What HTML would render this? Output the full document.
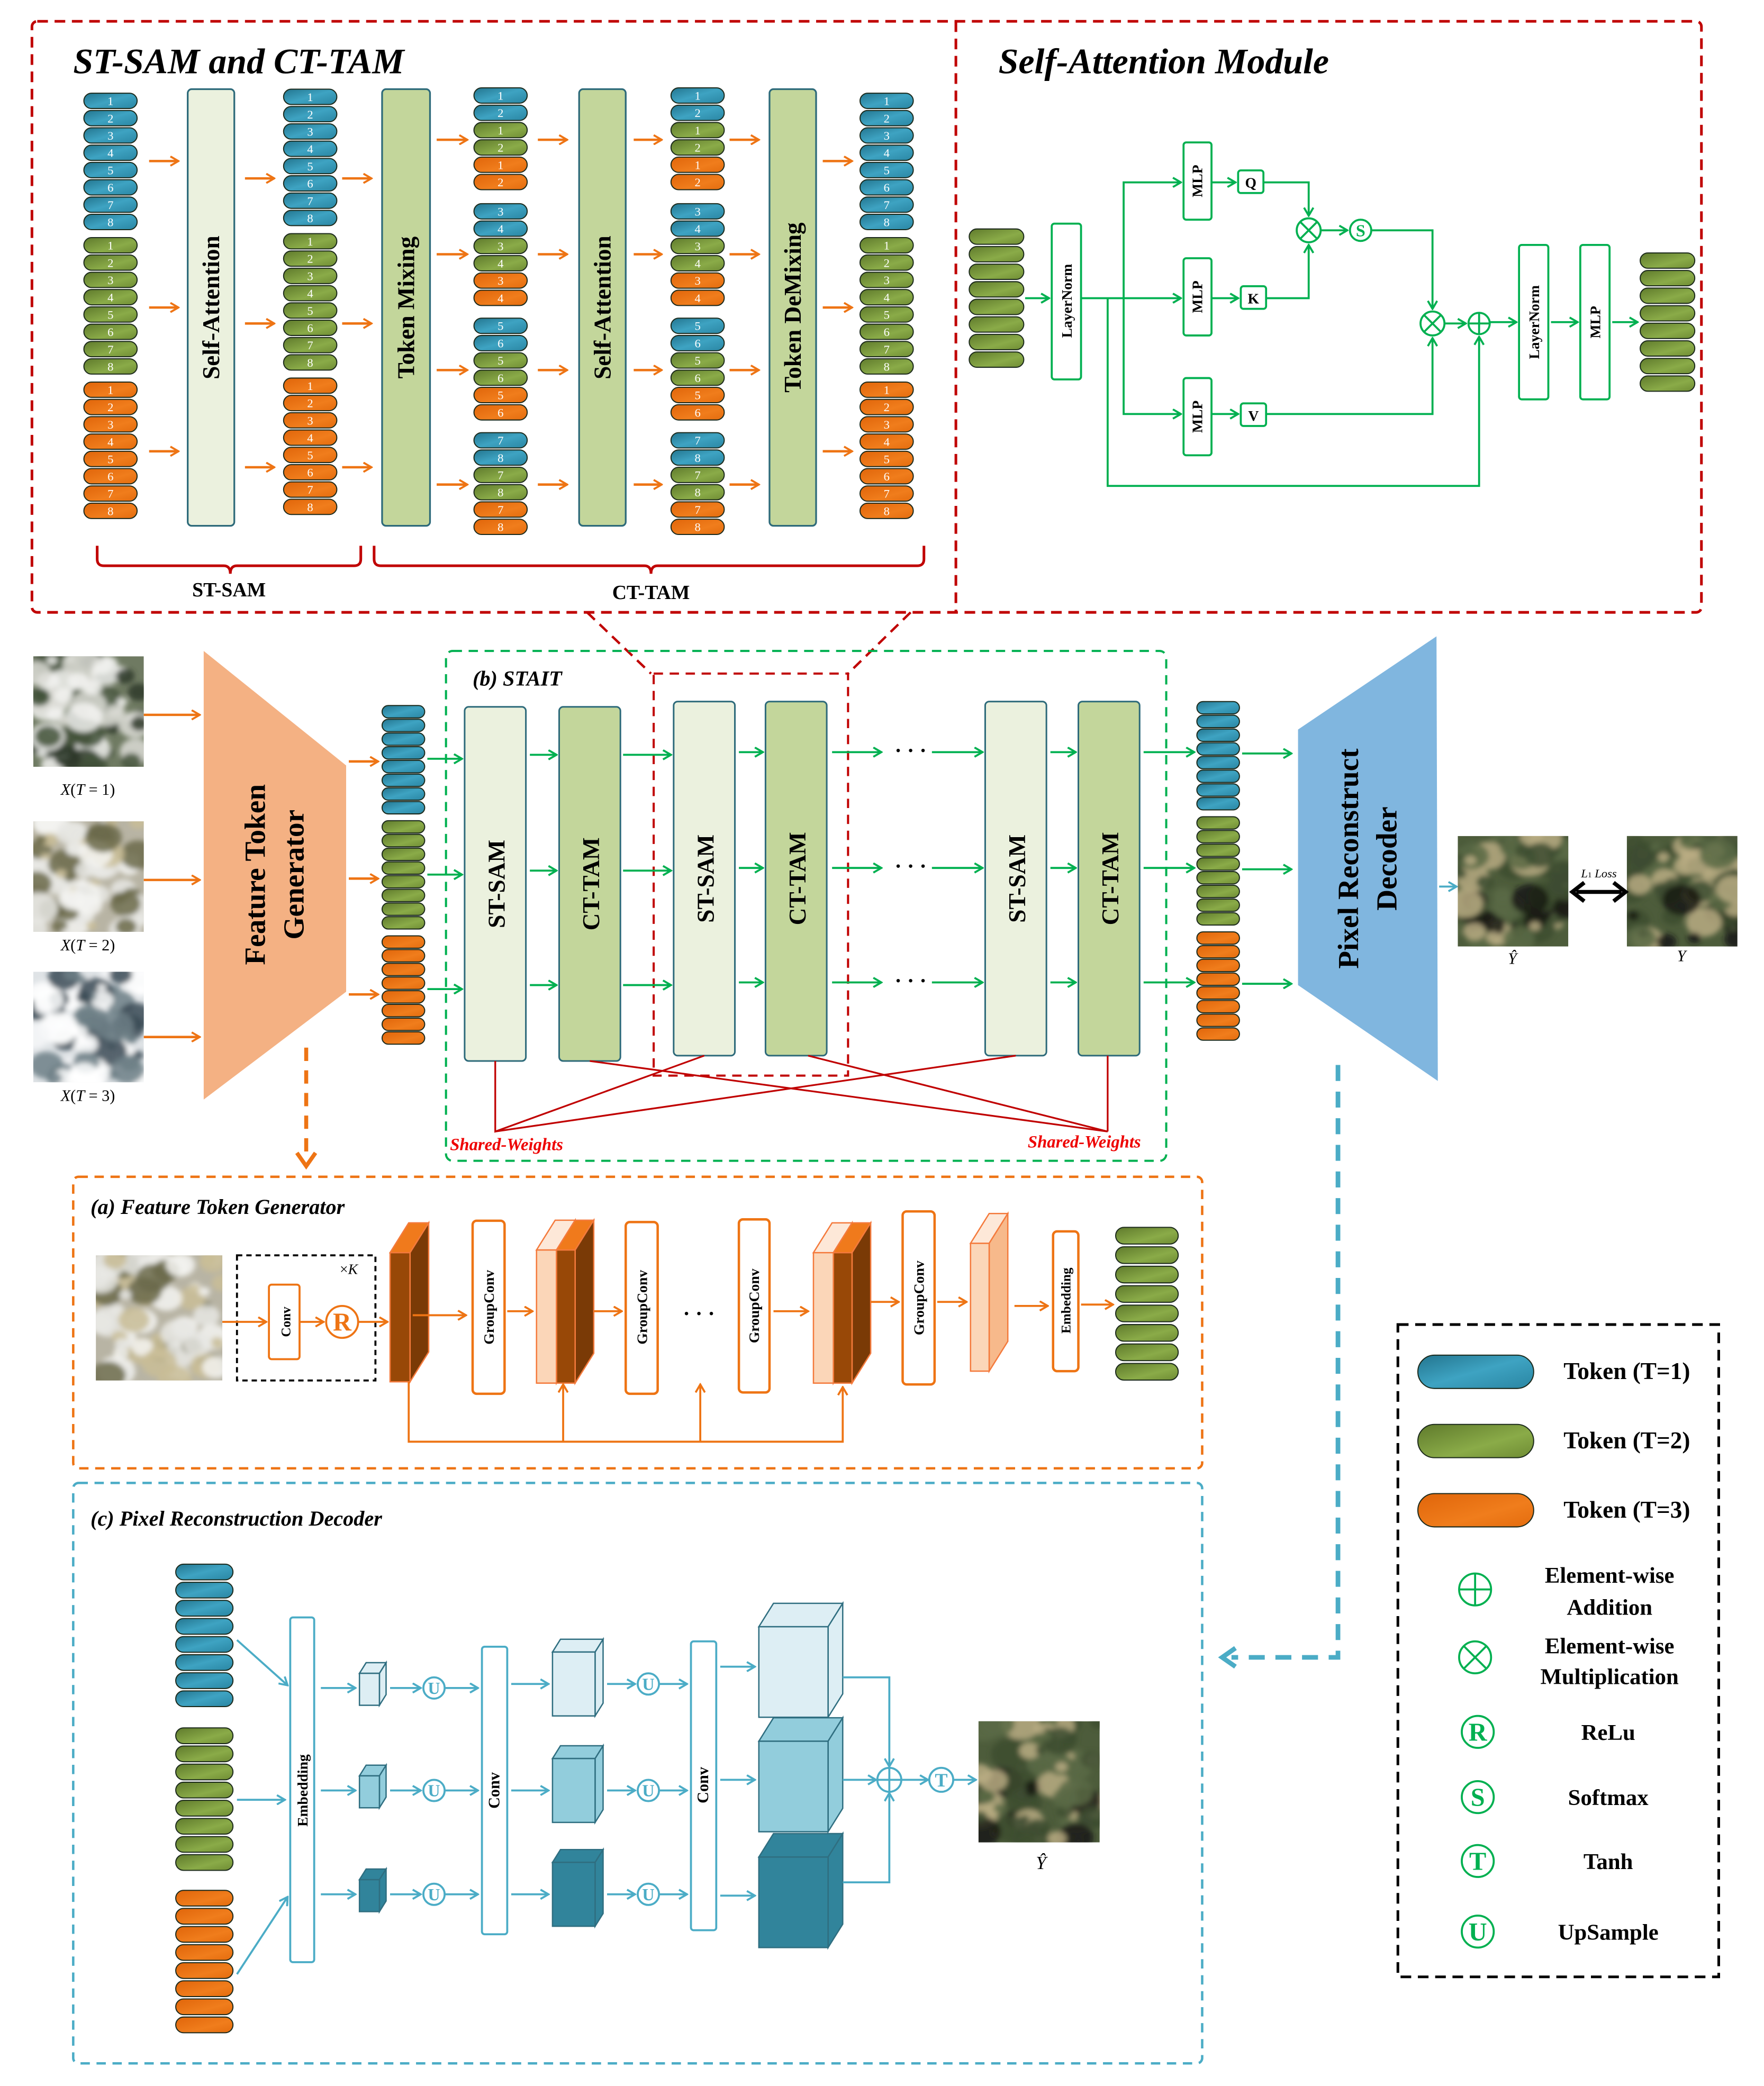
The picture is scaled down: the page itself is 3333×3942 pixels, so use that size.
<!DOCTYPE html>
<html><head><meta charset="utf-8"><style>
html,body{margin:0;padding:0;background:#fff;}
svg{display:block;}
text{font-family:"Liberation Serif",serif;}
</style></head><body>
<svg id="s" width="3333" height="3942" viewBox="0 0 1325 1567" preserveAspectRatio="none" xmlns="http://www.w3.org/2000/svg">
<defs>
<linearGradient id="gb" x1="0" y1="0" x2="1" y2="1"><stop offset="0" stop-color="#23758f"/><stop offset="0.5" stop-color="#3ea3c2"/><stop offset="1" stop-color="#2a86a3"/></linearGradient>
<linearGradient id="gg" x1="0" y1="0" x2="1" y2="1"><stop offset="0" stop-color="#5f7a2c"/><stop offset="0.6" stop-color="#8aab48"/><stop offset="1" stop-color="#6f8c34"/></linearGradient>
<linearGradient id="go" x1="0" y1="0" x2="1" y2="1"><stop offset="0" stop-color="#e0650a"/><stop offset="0.6" stop-color="#f07d1c"/><stop offset="1" stop-color="#e46c0e"/></linearGradient>
<marker id="ao" markerWidth="8" markerHeight="8" refX="7" refY="4" orient="auto" markerUnits="userSpaceOnUse"><path d="M1,0.5 L7,4 L1,7.5" fill="none" stroke="#ee7414" stroke-width="1.5"/></marker>
<marker id="ag" markerWidth="8" markerHeight="8" refX="7" refY="4" orient="auto" markerUnits="userSpaceOnUse"><path d="M1,0.5 L7,4 L1,7.5" fill="none" stroke="#00b050" stroke-width="1.5"/></marker>
<marker id="at" markerWidth="8" markerHeight="8" refX="7" refY="4" orient="auto" markerUnits="userSpaceOnUse"><path d="M1,0.5 L7,4 L1,7.5" fill="none" stroke="#4bacc6" stroke-width="1.5"/></marker>
<filter id="bl" x="-10%" y="-10%" width="120%" height="120%"><feGaussianBlur stdDeviation="2"/></filter>
</defs>
<g id="root"></g>
</svg>
<script>
var o=[];
function P(s){o.push(s);}
var G='#00b050',O='#ee7414',T='#4bacc6',R='#c00000';
function pill(x,y,w,h,c,l,fs){P('<rect x="'+x+'" y="'+y+'" width="'+w+'" height="'+h+'" rx="'+(h/2)+'" fill="url(#g'+c+')" stroke="#1c2a1c" stroke-width="0.8"/>');
 if(l!==undefined)P('<text x="'+(x+w/2)+'" y="'+(y+h/2+3.2)+'" font-size="'+(fs||9)+'" fill="#fff" text-anchor="middle">'+l+'</text>');}
function ln(pts,c,m,w,d){P('<polyline points="'+pts+'" fill="none" stroke="'+c+'" stroke-width="'+(w||1.5)+'"'+(m?' marker-end="url(#'+m+')"':'')+(d?' stroke-dasharray="'+d+'"':'')+'/>');}
function rr(x,y,w,h,f,s,sw,rx,d){P('<rect x="'+x+'" y="'+y+'" width="'+w+'" height="'+h+'" rx="'+(rx||0)+'" fill="'+f+'" stroke="'+s+'" stroke-width="'+(sw||1.5)+'"'+(d?' stroke-dasharray="'+d+'"':'')+'/>');}
function vt(x,y,t,fs,c,ex){P('<text x="'+x+'" y="'+y+'" font-size="'+fs+'" font-weight="bold" fill="'+(c||'#000')+'" text-anchor="middle" transform="rotate(-90 '+x+' '+y+')" '+(ex||'')+'>'+t+'</text>');}
function tx(x,y,t,fs,a,ex){P('<text x="'+x+'" y="'+y+'" font-size="'+fs+'" text-anchor="'+(a||'start')+'" '+(ex||'')+'>'+t+'</text>');}
function circ(x,y,r,c,l,sym){P('<circle cx="'+x+'" cy="'+y+'" r="'+r+'" fill="#fff" stroke="'+c+'" stroke-width="1.5"/>');
 if(sym=='x'){var k=r*0.7;ln((x-k)+','+(y-k)+' '+(x+k)+','+(y+k),c);ln((x-k)+','+(y+k)+' '+(x+k)+','+(y-k),c);}
 else if(sym=='+'){ln((x-r)+','+y+' '+(x+r)+','+y,c);ln(x+','+(y-r)+' '+x+','+(y+r),c);}
 else P('<text x="'+x+'" y="'+(y+r*0.55)+'" font-size="'+(r*1.6)+'" font-weight="bold" fill="'+c+'" text-anchor="middle">'+l+'</text>');}
function box3(x,y,w,h,d,f,s,t,st){P('<polygon points="'+x+','+y+' '+(x+d)+','+(y-d*1.6)+' '+(x+w+d)+','+(y-d*1.6)+' '+(x+w)+','+y+'" fill="'+t+'" stroke="'+st+'" stroke-width="1"/>');
 P('<polygon points="'+(x+w)+','+y+' '+(x+w+d)+','+(y-d*1.6)+' '+(x+w+d)+','+(y+h-d*1.6)+' '+(x+w)+','+(y+h)+'" fill="'+s+'" stroke="'+st+'" stroke-width="1"/>');
 rr(x,y,w,h,f,st,1);}
var seed=7;function rnd(){seed=(seed*9301+49297)%233280;return seed/233280;}
var ic=0;
function img(x,y,w,h,type){ic++;P('<clipPath id="c'+ic+'"><rect x="'+x+'" y="'+y+'" width="'+w+'" height="'+h+'"/></clipPath><g clip-path="url(#c'+ic+')">');
 var base={cloud1:'#6f7a62',cloud2:'#b8b4a4',cloud3:'#dfe3e6',clear:'#4d5c3b'}[type];
 P('<rect x="'+x+'" y="'+y+'" width="'+w+'" height="'+h+'" fill="'+base+'"/><g filter="url(#bl)">');
 var cols={cloud1:['#f2f2f0','#2e3a2a','#dcdcd6','#43523a'],cloud2:['#e8e8e4','#c9bd96','#6b6a4a','#f5f5f2'],cloud3:['#ffffff','#3a4a55','#f6f7f8','#6d7f86'],clear:['#3d4c30','#b8ac82','#1a1a14','#5b6a45']}[type];
 for(var i=0;i<70;i++){var cx=x+rnd()*w,cy=y+rnd()*h,r=3+rnd()*12,c=cols[Math.floor(rnd()*4)];
  if(type=='clear'||type=='cloud2'){if(cy<y+h*0.45&&c=='#1a1a14')c='#3d4c30';}
  P('<ellipse cx="'+cx+'" cy="'+cy+'" rx="'+r+'" ry="'+(r*0.8)+'" fill="'+c+'" opacity="0.85"/>');}
 P('</g></g>');}

rr(24,16,1254,444,'none',R,2,4,'8,5');
ln('718,16 718,460',R,0,2,'8,5');
tx(55,55,'ST-SAM and CT-TAM',27,'start','font-weight="bold" font-style="italic"');
tx(750,55,'Self-Attention Module',27,'start','font-weight="bold" font-style="italic"');
function colA(x,y0){var c=['b','g','o'];for(var g=0;g<3;g++)for(var i=0;i<8;i++)pill(x,y0+g*108.5+i*13,40,11.5,c[g],i+1);}
function colB(x){var ys=[66,153,239,325];for(var k=0;k<4;k++){var c=['b','b','g','g','o','o'];for(var i=0;i<6;i++)pill(x,ys[k]+i*13,40,11.5,c[i],2*k+1+(i%2));}}
colA(63,70);colA(213,67);colA(646,70);colB(356);colB(504);
function bar(x,w,f,t){rr(x,67,w,328,f,'#2d6a7a',1.3,3);vt(x+w/2+6,231,t,18);}
bar(141,35,'#ebf1de','Self-Attention');bar(287,36,'#c3d69b','Token Mixing');bar(435,35,'#c3d69b','Self-Attention');bar(578,35,'#c3d69b','Token DeMixing');
[121,231,339].forEach(function(y){ln('112,'+y+' 134,'+y,O,'ao',1.8);ln('618,'+y+' 640,'+y,O,'ao',1.8);});
[134,243,351].forEach(function(y){ln('184,'+y+' 206,'+y,O,'ao',1.8);ln('257,'+y+' 279,'+y,O,'ao',1.8);});
[105,191,278,364].forEach(function(y){ln('328,'+y+' 351,'+y,O,'ao',1.8);ln('404,'+y+' 426,'+y,O,'ao',1.8);ln('476,'+y+' 497,'+y,O,'ao',1.8);ln('548,'+y+' 570,'+y,O,'ao',1.8);});
P('<path d="M73,410 v10 q0,5 5,5 h90 q5,0 5,6 q0,-6 5,-6 h88 q5,0 5,-5 v-10" fill="none" stroke="'+R+'" stroke-width="2"/>');
P('<path d="M281,410 v10 q0,5 5,5 h198 q5,0 5,6 q0,-6 5,-6 h195 q5,0 5,-5 v-10" fill="none" stroke="'+R+'" stroke-width="2"/>');
tx(172,448,'ST-SAM',15,'middle','font-family="Liberation Sans" font-weight="bold"');
tx(489,450,'CT-TAM',15,'middle','font-family="Liberation Sans" font-weight="bold"');

for(var i=0;i<8;i++)pill(728,172+i*13.2,41,11.5,'g');
for(var i=0;i<8;i++)pill(1232,190+i*13.2,41,11.5,'g');
rr(790,168,22,117,'#fff',G,1.5,2);vt(805,226,'LayerNorm',11);
ln('770,224 788,224',G,'ag');
ln('812,224 887,224',G,'ag');
ln('844,224 844,137 887,137',G,'ag');ln('844,224 844,311 887,311',G,'ag');
[[107],[194],[284]].forEach(function(a){rr(889,a[0],21,58,'#fff',G,1.5,2);vt(903,a[0]+29,'MLP',11);});
ln('910,137 928,137',G,'ag');ln('910,224 930,224',G,'ag');ln('910,311 930,311',G,'ag');
rr(930,128,19,17,'#fff',G,1.5,2);tx(939.5,141,'Q',11,'middle','font-weight="bold"');
rr(932,215,19,17,'#fff',G,1.5,2);tx(941.5,228,'K',11,'middle','font-weight="bold"');
rr(932,303,19,17,'#fff',G,1.5,2);tx(941.5,316,'V',11,'middle','font-weight="bold"');
ln('949,137 983,137 983,162',G,'ag');ln('951,224 983,224 983,184',G,'ag');
circ(983,173,9,G,0,'x');ln('992,173 1012,173',G,'ag');circ(1022,173,8,G,'S');
ln('1030,173 1076,173 1076,232',G,'ag');ln('951,311 1076,311 1076,254',G,'ag');
circ(1076,243,9,G,0,'x');ln('1085,243 1101,243',G,'ag');circ(1111,243,8,G,0,'+');
ln('832,224 832,365 1111,365 1111,253',G,'ag');
ln('1119,242 1139,242',G,'ag');
rr(1141,184,22,116,'#fff',G,1.5,2);vt(1156,242,'LayerNorm',11);
ln('1165,242 1185,242',G,'ag');
rr(1187,184,22,116,'#fff',G,1.5,2);vt(1202,242,'MLP',11);
ln('1211,242 1230,242',G,'ag');

ln('441,460 489,506',R,0,1.8,'8,5');ln('684,460 637,506',R,0,1.8,'8,5');
img(25,493,83,83,'cloud1');img(25,617,83,83,'cloud2');img(25,730,83,83,'cloud3');
tx(66,597,'<tspan font-style="italic">X</tspan>(<tspan font-style="italic">T</tspan> = 1)',12,'middle');
tx(66,714,'<tspan font-style="italic">X</tspan>(<tspan font-style="italic">T</tspan> = 2)',12,'middle');
tx(66,827,'<tspan font-style="italic">X</tspan>(<tspan font-style="italic">T</tspan> = 3)',12,'middle');
[537,661,779].forEach(function(y){ln('108,'+y+' 150,'+y,O,'ao',1.8);});
P('<polygon points="153,489 260,575 260,745 153,826" fill="#f4b183"/>');
vt(199,657,'Feature Token',22);vt(228,657,'Generator',22);
function tcol(x,y0,w,h,st){var c=['b','g','o'];for(var g=0;g<3;g++)for(var i=0;i<8;i++)pill(x,y0+g*86.5+i*10.3,w,h,c[g]);}
tcol(287,530,32,9.3);tcol(899,527,32,9.3);
[572,660,747].forEach(function(y){ln('262,'+y+' 284,'+y,O,'ao',1.8);});
rr(335,489,541,383,'none',G,1.6,5,'7,5');
tx(355,515,'(b) STAIT',16,'start','font-weight="bold" font-style="italic"');
rr(491,506,146,302,'none',R,1.6,0,'7,5');
function blk(x,y,f,t){rr(x,y,46,266,f,'#2d6a7a',1.2,3);vt(x+30,y+133,t,18);}
blk(349,531,'#ebf1de','ST-SAM');blk(420,531,'#c3d69b','CT-TAM');blk(506,527,'#ebf1de','ST-SAM');blk(575,527,'#c3d69b','CT-TAM');blk(740,527,'#ebf1de','ST-SAM');blk(810,527,'#c3d69b','CT-TAM');
[570,657,743].forEach(function(y){ln('321,'+y+' 347,'+y,G,'ag');ln('398,'+(y-3)+' 418,'+(y-3),G,'ag');ln('468,'+(y-3)+' 504,'+(y-3),G,'ag');ln('555,'+(y-5)+' 573,'+(y-5),G,'ag');ln('625,'+(y-5)+' 662,'+(y-5),G,'ag');ln('700,'+(y-5)+' 738,'+(y-5),G,'ag');ln('789,'+(y-5)+' 808,'+(y-5),G,'ag');ln('859,'+(y-5)+' 897,'+(y-5),G,'ag');ln('933,'+(y-4)+' 970,'+(y-4),G,'ag');
 tx(684,y-1,'· · ·',16,'middle','font-weight="bold"');});
P('<polygon points="975,548 1079,478 1080,812 975,740" fill="#80b6df"/>');
vt(1020,645,'Pixel Reconstruct',22);vt(1049,645,'Decoder',22);
ln('1081,666 1094,666',T,'at');
img(1095,628,83,83,'clear');img(1222,628,83,83,'clear');
P('<line x1="1184" y1="670" x2="1218" y2="670" stroke="#000" stroke-width="3"/><path d="M1190,663 L1181,670 L1190,677 M1212,663 L1221,670 L1212,677" fill="none" stroke="#000" stroke-width="3"/>');
tx(1201,659,'<tspan font-style="italic">L</tspan><tspan font-size="6">1</tspan> <tspan font-style="italic">Loss</tspan>',9,'middle');
tx(1136,724,'<tspan font-style="italic">Ŷ</tspan>',12,'middle');tx(1263,722,'<tspan font-style="italic">Y</tspan>',12,'middle');
ln('372,797 372,850 529,793',R,0,1.3);ln('372,850 763,793',R,0,1.3);
ln('443,797 832,850 607,793',R,0,1.3);ln('832,850 832,793',R,0,1.3);
tx(338,864,'Shared-Weights',13,'start','fill="#e00" font-style="italic" font-weight="bold"');
tx(772,862,'Shared-Weights',13,'start','fill="#e00" font-style="italic" font-weight="bold"');
ln('230,787 230,866',O,0,3,'10,7');P('<path d="M223,866 L230,876 L237,866" fill="none" stroke="'+O+'" stroke-width="3"/>');
ln('1005,800 1005,1245 925,1245',T,0,3.5,'12,8');P('<path d="M928,1238 L918,1245 L928,1252" fill="none" stroke="'+T+'" stroke-width="3.5"/>');

rr(55,884,848,219,'none',O,1.8,4,'7,5');
tx(68,912,'(a) Feature Token Generator',16,'start','font-weight="bold" font-style="italic"');
img(72,943,95,94,'cloud2');
rr(178,943,104,94,'none','#000',1.5,0,'4,3');tx(262,957,'×<tspan font-style="italic">K</tspan>',11,'middle');
ln('167,993 200,993',O,'ao');rr(202,965,23,56,'#fff',O,1.5,2);vt(218,993,'Conv',10);
ln('225,993 243,993',O,'ao');circ(257,993,12,O,'R');ln('269,993 291,993',O,'ao');
box3(293,941,15,97,14,'#984807','#7a3a06','#f07a1c','#f47a3c');
ln('310,988 350,988',O,'ao');
rr(355,917,24,130,'#fff',O,1.8,3);vt(371,982,'GroupConv',11);
ln('381,985 400,985',O,'ao');
box3(403,939,15,100,14,'#fbd6b8','#fbd6b8','#fde8d8','#f47a3c');box3(418,939,14,100,14,'#984807','#7a3a06','#f07a1c','#f47a3c');
ln('446,985 467,985',O,'ao');
rr(470,918,24,129,'#fff',O,1.8,3);vt(486,982,'GroupConv',11);
tx(525,992,'· · ·',16,'middle','font-weight="bold"');
rr(555,916,23,130,'#fff',O,1.8,3);vt(570,981,'GroupConv',11);
ln('581,985 607,985',O,'ao');
box3(611,941,15,98,14,'#fbd6b8','#fbd6b8','#fde8d8','#f47a3c');box3(626,941,14,98,14,'#984807','#7a3a06','#f07a1c','#f47a3c');
ln('654,978 675,978',O,'ao');
rr(678,910,24,130,'#fff',O,1.8,3);vt(694,975,'GroupConv',11);
ln('704,978 726,978',O,'ao');
box3(729,934,14,96,14,'#fbd6b8','#f7b98b','#fde8d8','#f47a3c');
ln('762,981 787,981',O,'ao');
rr(791,925,19,105,'#fff',O,1.8,3);vt(804,977,'Embedding',10);
ln('812,980 836,980',O,'ao');
for(var i=0;i<8;i++)pill(838,922+i*14.6,47,12.5,'g');
ln('307,1038 307,1083 633,1083 633,1042',O,'ao');ln('423,1083 423,1040',O,'ao');ln('526,1083 526,1040',O,'ao');

rr(55,1114,848,436,'none',T,1.8,4,'7,5');
tx(68,1146,'(c) Pixel Reconstruction Decoder',16,'start','font-weight="bold" font-style="italic"');
var cc=['b','g','o'],y0=[1175,1298,1420];
for(var g=0;g<3;g++)for(var i=0;i<8;i++)pill(132,y0[g]+i*13.6,43,11.8,cc[g]);
ln('178,1232 216,1266',T,'at');ln('178,1352 214,1352',T,'at');ln('178,1483 216,1425',T,'at');
rr(218,1215,18,259,'#fff',T,1.5,2);vt(231,1345,'Embedding',11);
var L='#ddeef4',M='#92cddc',D='#31849b',st='#2f6e80';
[[1268,L],[1345,M],[1423,D]].forEach(function(a){var y=a[0];ln('241,'+y+' 267,'+y,T,'at');box3(270,y-11,15,24,5,a[1],a[1],a[1],st);ln('293,'+y+' 316,'+y,T,'at');circ(326,y,8,T,'U');ln('334,'+y+' 359,'+y,T,'at');});
rr(362,1237,19,216,'#fff',T,1.5,2);vt(375,1345,'Conv',12);
[[1265,L],[1345,M],[1423,D]].forEach(function(a){var y=a[0];ln('384,'+y+' 412,'+y,T,'at');box3(415,y-24,32,48,6,a[1],a[1],a[1],st);ln('456,'+y+' 477,'+y,T,'at');circ(487,y,8,T,'U');ln('495,'+y+' 516,'+y,T,'at');});
rr(519,1233,19,217,'#fff',T,1.5,2);vt(532,1341,'Conv',12);
[[1252,L,1222],[1337,M,1308],[1424,D,1395]].forEach(function(a){var y=a[0];ln('541,'+y+' 567,'+y,T,'at');box3(570,a[2],52,68,11,a[1],a[1],a[1],st);});
ln('633,1260 668,1260 668,1327',T,'at');ln('633,1414 668,1414 668,1347',T,'at');ln('633,1337 658,1337',T,'at');
circ(668,1337,9,T,0,'+');ln('677,1337 697,1337',T,'at');circ(707,1337,9,T,'T');ln('716,1337 733,1337',T,'at');
img(735,1293,91,91,'clear');tx(782,1404,'<tspan font-style="italic">Ŷ</tspan>',14,'middle');

rr(1050,995,241,490,'none','#000',2,0,'8,5');
[['b',1018,'Token (T=1)'],['g',1070,'Token (T=2)'],['o',1122,'Token (T=3)']].forEach(function(a){pill(1065,a[1],87,25,a[0]);tx(1222,a[1]+18,a[2],18,'middle','font-weight="bold"');});
circ(1108,1194,12,G,0,'+');tx(1209,1189,'Element-wise',17,'middle','font-weight="bold"');tx(1209,1213,'Addition',17,'middle','font-weight="bold"');
circ(1108,1245,12,G,0,'x');tx(1209,1242,'Element-wise',17,'middle','font-weight="bold"');tx(1209,1265,'Multiplication',17,'middle','font-weight="bold"');
[[1301,'R','ReLu'],[1350,'S','Softmax'],[1398,'T','Tanh'],[1451,'U','UpSample']].forEach(function(a){circ(1110,a[0],12,G,a[1]);tx(1208,a[0]+6,a[2],17,'middle','font-weight="bold"');});
document.getElementById('root').innerHTML=o.join('');
</script>
</body></html>
